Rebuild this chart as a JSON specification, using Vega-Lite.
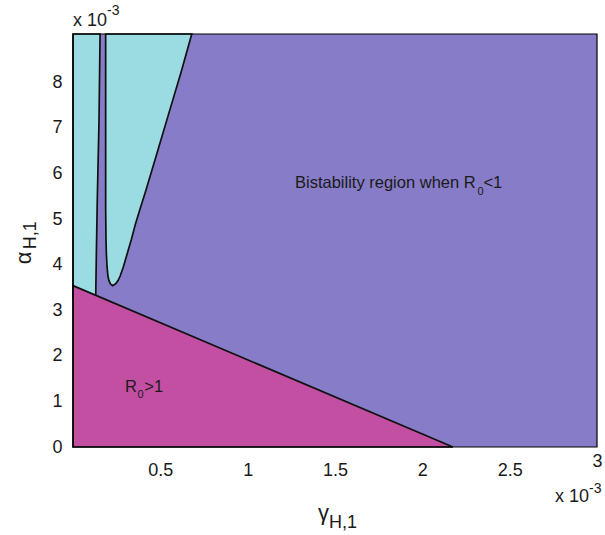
{
  "$schema": "https://vega.github.io/schema/vega-lite/v6.json",
  "width": 524,
  "height": 413,
  "autosize": {"type": "none"},
  "padding": {"left": 73, "top": 34, "right": 8, "bottom": 88},
  "background": "white",
  "config": {
    "view": {"stroke": null},
    "font": "Liberation Sans",
    "text": {"font": "Liberation Sans", "color": "#1a1a1a", "baseline": "alphabetic", "align": "left"}
  },
  "datasets": {
    "bg": [{"x": 0, "x2": 3, "y": 0, "y2": 9.06}],
    "leftstrip": [
      {"y": 3.29, "x": 0.130, "x2": 0},
      {"y": 4.30, "x": 0.134, "x2": 0},
      {"y": 5.42, "x": 0.139, "x2": 0},
      {"y": 7.17, "x": 0.149, "x2": 0},
      {"y": 9.06, "x": 0.155, "x2": 0}
    ],
    "ushape": [
      {"y": 3.54, "x": 0.227, "x2": 0.227},
      {"y": 3.58, "x": 0.214, "x2": 0.244},
      {"y": 3.65, "x": 0.206, "x2": 0.258},
      {"y": 3.75, "x": 0.200, "x2": 0.270},
      {"y": 3.95, "x": 0.195, "x2": 0.288},
      {"y": 4.25, "x": 0.191, "x2": 0.311},
      {"y": 4.55, "x": 0.189, "x2": 0.334},
      {"y": 4.90, "x": 0.188, "x2": 0.358},
      {"y": 5.25, "x": 0.187, "x2": 0.386},
      {"y": 5.64, "x": 0.187, "x2": 0.418},
      {"y": 6.50, "x": 0.187, "x2": 0.485},
      {"y": 7.39, "x": 0.187, "x2": 0.554},
      {"y": 8.20, "x": 0.187, "x2": 0.617},
      {"y": 9.06, "x": 0.187, "x2": 0.680}
    ],
    "r0line": [
      {"x": 0, "y": 3.54},
      {"x": 2.175, "y": 0}
    ],
    "notes": [
      {"x": 1.271, "y": 5.68, "t": "Bistability region when R"},
      {"x": 2.350, "y": 5.68, "t": "<1"},
      {"x": 0.298, "y": 1.20, "t": "R"},
      {"x": 0.408, "y": 1.20, "t": ">1"}
    ],
    "subs": [
      {"x": 2.316, "y": 5.53, "t": "0"},
      {"x": 0.369, "y": 1.07, "t": "0"}
    ],
    "topleft": [{"x": 0, "y": 9.06}],
    "botright": [{"x": 3, "y": 0}],
    "xtitle": [{"x": 1.5, "y": 0}],
    "ytitle1": [{"x": 0, "y": 4.01}],
    "ytitle2": [{"x": 0, "y": 4.34}]
  },
  "encoding": {
    "x": {
      "field": "x", "type": "quantitative", "stack": null,
      "scale": {"domain": [0, 3], "nice": false, "zero": false},
      "axis": {
        "title": null, "values": [0.5, 1, 1.5, 2, 2.5, 3], "format": "~g",
        "domain": false, "ticks": false, "grid": false,
        "labelFont": "Liberation Sans", "labelFontSize": 18, "labelColor": "#1a1a1a",
        "labelPadding": 14,
        "labelBaseline": {"condition": {"test": "datum.value === 3", "value": "middle"}, "value": "top"},
        "labelOverlap": false, "labelFlush": false
      }
    },
    "y": {
      "field": "y", "type": "quantitative", "stack": null,
      "scale": {"domain": [0, 9.06], "nice": false, "zero": false},
      "axis": {
        "title": null, "values": [0, 1, 2, 3, 4, 5, 6, 7, 8],
        "domain": false, "ticks": false, "grid": false,
        "labelFont": "Liberation Sans", "labelFontSize": 18, "labelColor": "#1a1a1a",
        "labelPadding": 11, "labelOverlap": false, "labelFlush": false
      }
    }
  },
  "layer": [
    {
      "data": {"name": "bg"},
      "mark": {"type": "rect", "fill": "#877CC7", "stroke": null},
      "encoding": {"x2": {"field": "x2"}, "y2": {"field": "y2"}}
    },
    {
      "data": {"name": "leftstrip"},
      "mark": {"type": "area", "orient": "horizontal", "fill": "#9BDCE3", "stroke": "#111", "strokeWidth": 1.7, "fillOpacity": 1},
      "encoding": {"x2": {"field": "x2"}}
    },
    {
      "data": {"name": "ushape"},
      "mark": {"type": "area", "orient": "horizontal", "fill": "#9BDCE3", "stroke": "#111", "strokeWidth": 1.7, "fillOpacity": 1},
      "encoding": {"x2": {"field": "x2"}}
    },
    {
      "data": {"name": "r0line"},
      "mark": {"type": "area", "orient": "vertical", "fill": "#C34FA3", "stroke": "#111", "strokeWidth": 1.7, "fillOpacity": 1},
      "encoding": {}
    },
    {
      "data": {"name": "bg"},
      "mark": {"type": "rect", "filled": false, "stroke": "#000", "strokeWidth": 1.2},
      "encoding": {"x2": {"field": "x2"}, "y2": {"field": "y2"}}
    },
    {
      "data": {"name": "notes"},
      "mark": {"type": "text", "fontSize": 16.5},
      "encoding": {"text": {"field": "t"}}
    },
    {
      "data": {"name": "subs"},
      "mark": {"type": "text", "fontSize": 11},
      "encoding": {"text": {"field": "t"}}
    },
    {
      "data": {"name": "topleft"},
      "mark": {"type": "text", "fontSize": 18, "dy": -8, "text": "x 10"},
      "encoding": {}
    },
    {
      "data": {"name": "topleft"},
      "mark": {"type": "text", "fontSize": 14, "dx": 34, "dy": -19, "text": "-3"},
      "encoding": {}
    },
    {
      "data": {"name": "botright"},
      "mark": {"type": "text", "fontSize": 18, "dx": -42, "dy": 55, "text": "x 10"},
      "encoding": {}
    },
    {
      "data": {"name": "botright"},
      "mark": {"type": "text", "fontSize": 14, "dx": -8, "dy": 46, "text": "-3"},
      "encoding": {}
    },
    {
      "data": {"name": "xtitle"},
      "mark": {"type": "text", "fontSize": 22, "align": "right", "dx": -6, "dy": 73, "text": "γ"},
      "encoding": {}
    },
    {
      "data": {"name": "xtitle"},
      "mark": {"type": "text", "fontSize": 18, "align": "left", "dx": -6, "dy": 81, "text": "H,1"},
      "encoding": {}
    },
    {
      "data": {"name": "ytitle1"},
      "mark": {"type": "text", "fontSize": 22, "angle": 270, "align": "left", "dy": -42, "text": "α"},
      "encoding": {}
    },
    {
      "data": {"name": "ytitle2"},
      "mark": {"type": "text", "fontSize": 18, "angle": 270, "align": "left", "dy": -37, "text": "H,1"},
      "encoding": {}
    }
  ]
}
